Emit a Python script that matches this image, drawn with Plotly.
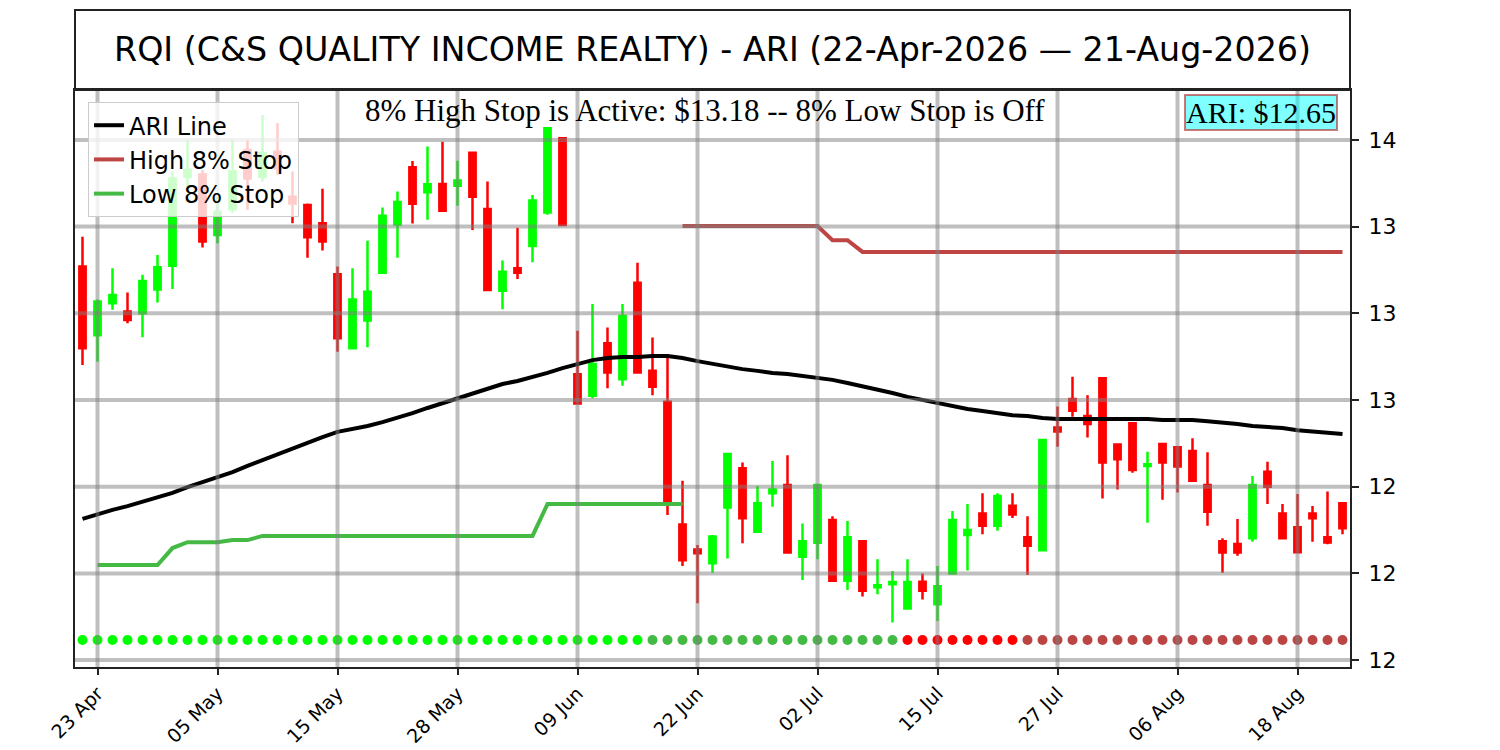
import pandas as pd
import plotly.graph_objects as go

# ---------------- data ----------------
HOLIDAYS = ["2026-05-25", "2026-06-19", "2026-07-03"]
dates = [d.strftime("%Y-%m-%d") for d in pd.bdate_range("2026-04-22", "2026-08-21")
         if d.strftime("%Y-%m-%d") not in HOLIDAYS]

opens = [13.135, 12.937, 13.029, 13.005, 13.000, 13.069, 13.137, 13.394, 13.400, 13.226,
         13.300, 13.471, 13.394, 13.466, 13.336, 13.312, 13.260, 13.113, 12.899, 12.979,
         13.117, 13.256, 13.421, 13.349, 13.373, 13.368, 13.463, 13.301, 13.065, 13.130,
         13.194, 13.291, 13.505, 12.824, 12.762, 12.914, 12.810, 13.088, 12.834, 12.745,
         12.391, 12.319, 12.279, 12.440, 12.553, 12.370, 12.481, 12.505, 12.298, 12.338,
         12.404, 12.229, 12.343, 12.210, 12.219, 12.149, 12.226, 12.161, 12.250, 12.361,
         12.423, 12.387, 12.445, 12.354, 12.317, 12.671, 12.753, 12.704, 12.813, 12.622,
         12.683, 12.560, 12.623, 12.614, 12.603, 12.505, 12.343, 12.335, 12.351, 12.543,
         12.423, 12.383, 12.423, 12.354, 12.452]
highs = [13.221, 13.040, 13.130, 13.060, 13.111, 13.168, 13.410, 13.500, 13.413, 13.336,
         13.500, 13.500, 13.572, 13.549, 13.409, 13.317, 13.359, 13.135, 13.130, 13.209,
         13.305, 13.351, 13.439, 13.481, 13.495, 13.440, 13.463, 13.380, 13.152, 13.247,
         13.341, 13.534, 13.505, 12.950, 13.027, 12.959, 13.027, 13.146, 12.930, 12.882,
         12.517, 12.332, 12.361, 12.594, 12.570, 12.502, 12.574, 12.591, 12.394, 12.505,
         12.415, 12.401, 12.343, 12.291, 12.257, 12.291, 12.250, 12.271, 12.430, 12.450,
         12.481, 12.481, 12.481, 12.415, 12.635, 12.731, 12.817, 12.764, 12.813, 12.622,
         12.683, 12.601, 12.623, 12.614, 12.640, 12.599, 12.351, 12.407, 12.531, 12.572,
         12.450, 12.479, 12.444, 12.486, 12.452]
lows = [12.851, 12.860, 13.010, 12.971, 12.931, 13.031, 13.070, 13.365, 13.190, 13.202,
        13.290, 13.298, 13.380, 13.399, 13.260, 13.160, 13.181, 12.889, 12.899, 12.902,
        13.117, 13.160, 13.259, 13.270, 13.296, 13.310, 13.240, 13.067, 13.012, 13.099,
        13.147, 13.284, 13.255, 12.740, 12.755, 12.784, 12.791, 12.829, 12.764, 12.418,
        12.271, 12.164, 12.252, 12.293, 12.337, 12.370, 12.442, 12.310, 12.231, 12.291,
        12.229, 12.202, 12.183, 12.190, 12.108, 12.149, 12.175, 12.113, 12.250, 12.258,
        12.363, 12.373, 12.410, 12.245, 12.317, 12.615, 12.702, 12.642, 12.466, 12.492,
        12.540, 12.396, 12.462, 12.483, 12.517, 12.387, 12.252, 12.301, 12.341, 12.450,
        12.351, 12.311, 12.341, 12.334, 12.363]
closes = [12.899, 13.034, 13.053, 12.981, 13.093, 13.133, 13.389, 13.413, 13.207, 13.293,
          13.410, 13.389, 13.462, 13.418, 13.317, 13.219, 13.207, 12.928, 13.040, 13.062,
          13.281, 13.321, 13.316, 13.372, 13.296, 13.383, 13.336, 13.067, 13.120, 13.117,
          13.325, 13.534, 13.255, 12.740, 12.854, 12.829, 12.992, 12.829, 12.788, 12.457,
          12.288, 12.308, 12.356, 12.594, 12.409, 12.452, 12.492, 12.310, 12.343, 12.505,
          12.229, 12.354, 12.200, 12.216, 12.225, 12.225, 12.200, 12.213, 12.404, 12.375,
          12.387, 12.473, 12.420, 12.330, 12.635, 12.659, 12.719, 12.681, 12.570, 12.579,
          12.548, 12.565, 12.570, 12.558, 12.517, 12.428, 12.310, 12.310, 12.505, 12.500,
          12.351, 12.311, 12.409, 12.339, 12.380]

ari_line = [12.407, 12.421, 12.433, 12.444, 12.456, 12.467, 12.482, 12.499, 12.513, 12.528,
            12.542, 12.560, 12.577, 12.594, 12.612, 12.629, 12.643, 12.658, 12.666, 12.675,
            12.686, 12.698, 12.712, 12.727, 12.741, 12.756, 12.770, 12.785, 12.796, 12.805,
            12.816, 12.828, 12.842, 12.854, 12.865, 12.871, 12.874, 12.874, 12.877, 12.877,
            12.871, 12.862, 12.854, 12.845, 12.839, 12.834, 12.828, 12.825, 12.819, 12.813,
            12.808, 12.799, 12.790, 12.779, 12.770, 12.759, 12.750, 12.741, 12.733, 12.724,
            12.718, 12.712, 12.706, 12.704, 12.698, 12.695, 12.695, 12.695, 12.695, 12.695,
            12.695, 12.695, 12.692, 12.692, 12.692, 12.689, 12.686, 12.681, 12.675, 12.672,
            12.669, 12.663, 12.660, 12.655, 12.652]

# high stop: active from index 40 to end
high_stop = [13.252, 13.252, 13.252, 13.252, 13.252, 13.252, 13.252, 13.252, 13.252, 13.252,
             13.211, 13.211, 13.177, 13.177, 13.177, 13.177, 13.177, 13.177, 13.177, 13.177,
             13.177, 13.177, 13.177, 13.177, 13.177, 13.177, 13.177, 13.177, 13.177, 13.177,
             13.177, 13.177, 13.177, 13.177, 13.177, 13.177, 13.177, 13.177, 13.177, 13.177,
             13.177, 13.177, 13.177, 13.177, 13.177]
high_stop_start = 40
# low stop: from index 1 to 40
low_stop = [12.274, 12.274, 12.274, 12.274, 12.274, 12.323, 12.340, 12.340, 12.340, 12.346,
            12.346, 12.358, 12.358, 12.358, 12.358, 12.358, 12.358, 12.358, 12.358, 12.358,
            12.358, 12.358, 12.358, 12.358, 12.358, 12.358, 12.358, 12.358, 12.358, 12.358,
            12.450, 12.450, 12.450, 12.450, 12.450, 12.450, 12.450, 12.450, 12.450, 12.450]
low_stop_start = 1

# signal dots per bar: G = bright green, g = green, R = red, r = dark red
signal = ("GGGGGGGGGG" "GGGGGGGGGG" "GGGGGGGGGG" "GGGGGGGG"
          "ggggggggggggggggg"
          "RRRRRRRR"
          "rrrrrrrrrrrrrrrrrrrrrr")
signal_level = 12.058

y_ticks = [12.0, 12.25, 12.5, 12.75, 13.0, 13.25, 13.5]
y_tick_text = ["12", "12", "12", "13", "13", "13", "14"]
x_tick_labels = ["23 Apr", "05 May", "15 May", "28 May", "09 Jun", "22 Jun",
                 "02 Jul", "15 Jul", "27 Jul", "06 Aug", "18 Aug"]
x_tick_dates = ["2026-04-23", "2026-05-05", "2026-05-15", "2026-05-28", "2026-06-09",
                "2026-06-22", "2026-07-02", "2026-07-15", "2026-07-27", "2026-08-06",
                "2026-08-18"]

title_text = "RQI (C&S QUALITY INCOME REALTY) - ARI (22-Apr-2026 \u2014 21-Aug-2026)"
status_text = "8% High Stop is Active: $13.18 -- 8% Low Stop is Off"
ari_text = "ARI: $12.65"

# ---------------- styles ----------------
SIG_COLORS = {"G": "#00ff00", "g": "#44b944", "R": "#ff0000", "r": "#bb4444"}
HIGH_COLOR = "#bf4444"
LOW_COLOR = "#44b944"
GRID = "rgba(128,128,128,0.5)"
FRAME = "#222222"

W, H = 1492, 742
ML, MR, MT, MB = 67, 150, 82, 83
PLOT_H = H - MT - MB

fig = go.Figure()

fig.add_trace(go.Scatter(x=dates, y=ari_line, mode="lines", name="ARI Line",
                         line=dict(color="black", width=4)))
fig.add_trace(go.Scatter(x=dates[high_stop_start:high_stop_start + len(high_stop)], y=high_stop,
                         mode="lines", name="High 8% Stop",
                         line=dict(color=HIGH_COLOR, width=4)))
fig.add_trace(go.Scatter(x=dates[low_stop_start:low_stop_start + len(low_stop)], y=low_stop,
                         mode="lines", name="Low 8% Stop",
                         line=dict(color=LOW_COLOR, width=4)))

fig.add_trace(go.Candlestick(
    x=dates, open=opens, high=highs, low=lows, close=closes, showlegend=False,
    increasing=dict(line=dict(color="#00ff00", width=2.5), fillcolor="#00ff00"),
    decreasing=dict(line=dict(color="#ff0000", width=2.5), fillcolor="#ff0000"),
    whiskerwidth=0, hoverinfo="skip"))

fig.add_trace(go.Scatter(x=dates, y=[signal_level] * len(dates), mode="markers",
                         showlegend=False,
                         marker=dict(size=10, color=[SIG_COLORS[s] for s in signal])))

shapes = []
for yv in y_ticks:
    shapes.append(dict(type="line", xref="paper", x0=0, x1=1, yref="y", y0=yv, y1=yv,
                       line=dict(color=GRID, width=4), layer="above"))
for xd in x_tick_dates:
    shapes.append(dict(type="line", xref="x", x0=xd, x1=xd, yref="paper", y0=0, y1=1,
                       line=dict(color=GRID, width=4), layer="above"))
# title box
shapes.append(dict(type="rect", xref="paper", yref="paper", x0=0, x1=1,
                   y0=1, y1=1 + 80 / PLOT_H, line=dict(color=FRAME, width=2)))

fig.update_layout(
    width=W, height=H,
    margin=dict(l=ML, r=MR, t=MT, b=MB, autoexpand=False),
    paper_bgcolor="white", plot_bgcolor="white",
    font=dict(family="DejaVu Sans", color="black"),
    boxgap=0.4,
    shapes=shapes,
    showlegend=True,
    legend=dict(x=0.0102, y=0.979, xanchor="left", yanchor="top",
                bgcolor="rgba(255,255,255,0.8)", bordercolor="#cccccc", borderwidth=1,
                font=dict(size=24, family="DejaVu Sans"), itemwidth=30, tracegroupgap=0),
    xaxis=dict(type="category", range=[-0.5, 84.5], rangeslider=dict(visible=False),
               tickmode="array", tickvals=x_tick_dates, ticktext=x_tick_labels,
               tickangle=-45, tickfont=dict(size=19), ticks="outside", ticklen=6,
               tickcolor=FRAME, tickwidth=1.5, automargin=False,
               showgrid=False, showline=True, linecolor=FRAME, linewidth=2, mirror=True,
               zeroline=False),
    yaxis=dict(side="right", range=[11.98, 13.644], tickmode="array", tickvals=y_ticks,
               ticktext=y_tick_text, tickfont=dict(size=22), ticks="outside", ticklen=7,
               tickcolor=FRAME, tickwidth=1.5, automargin=False, ticklabelstandoff=5,
               showgrid=False, showline=True, linecolor=FRAME, linewidth=2, mirror=True,
               zeroline=False),
    annotations=[
        dict(text=title_text, xref="paper", yref="paper", x=0.5, y=1 + 40 / PLOT_H,
             xanchor="center", yanchor="middle", showarrow=False,
             font=dict(size=33.3, family="DejaVu Sans")),
        dict(text=status_text, xref="paper", yref="paper", x=0.494, y=1 - 20 / PLOT_H,
             xanchor="center", yanchor="middle", showarrow=False,
             font=dict(size=31, family="Liberation Serif")),
        dict(text=ari_text, xref="paper", yref="paper", x=0.9906, y=1 - 22 / PLOT_H,
             xanchor="right", yanchor="middle", showarrow=False,
             font=dict(size=30, family="Liberation Serif"),
             bgcolor="rgba(0,255,255,0.5)", bordercolor="rgba(178,34,34,0.6)",
             borderwidth=2, borderpad=0),
    ],
)

fig.write_html("out.html")
